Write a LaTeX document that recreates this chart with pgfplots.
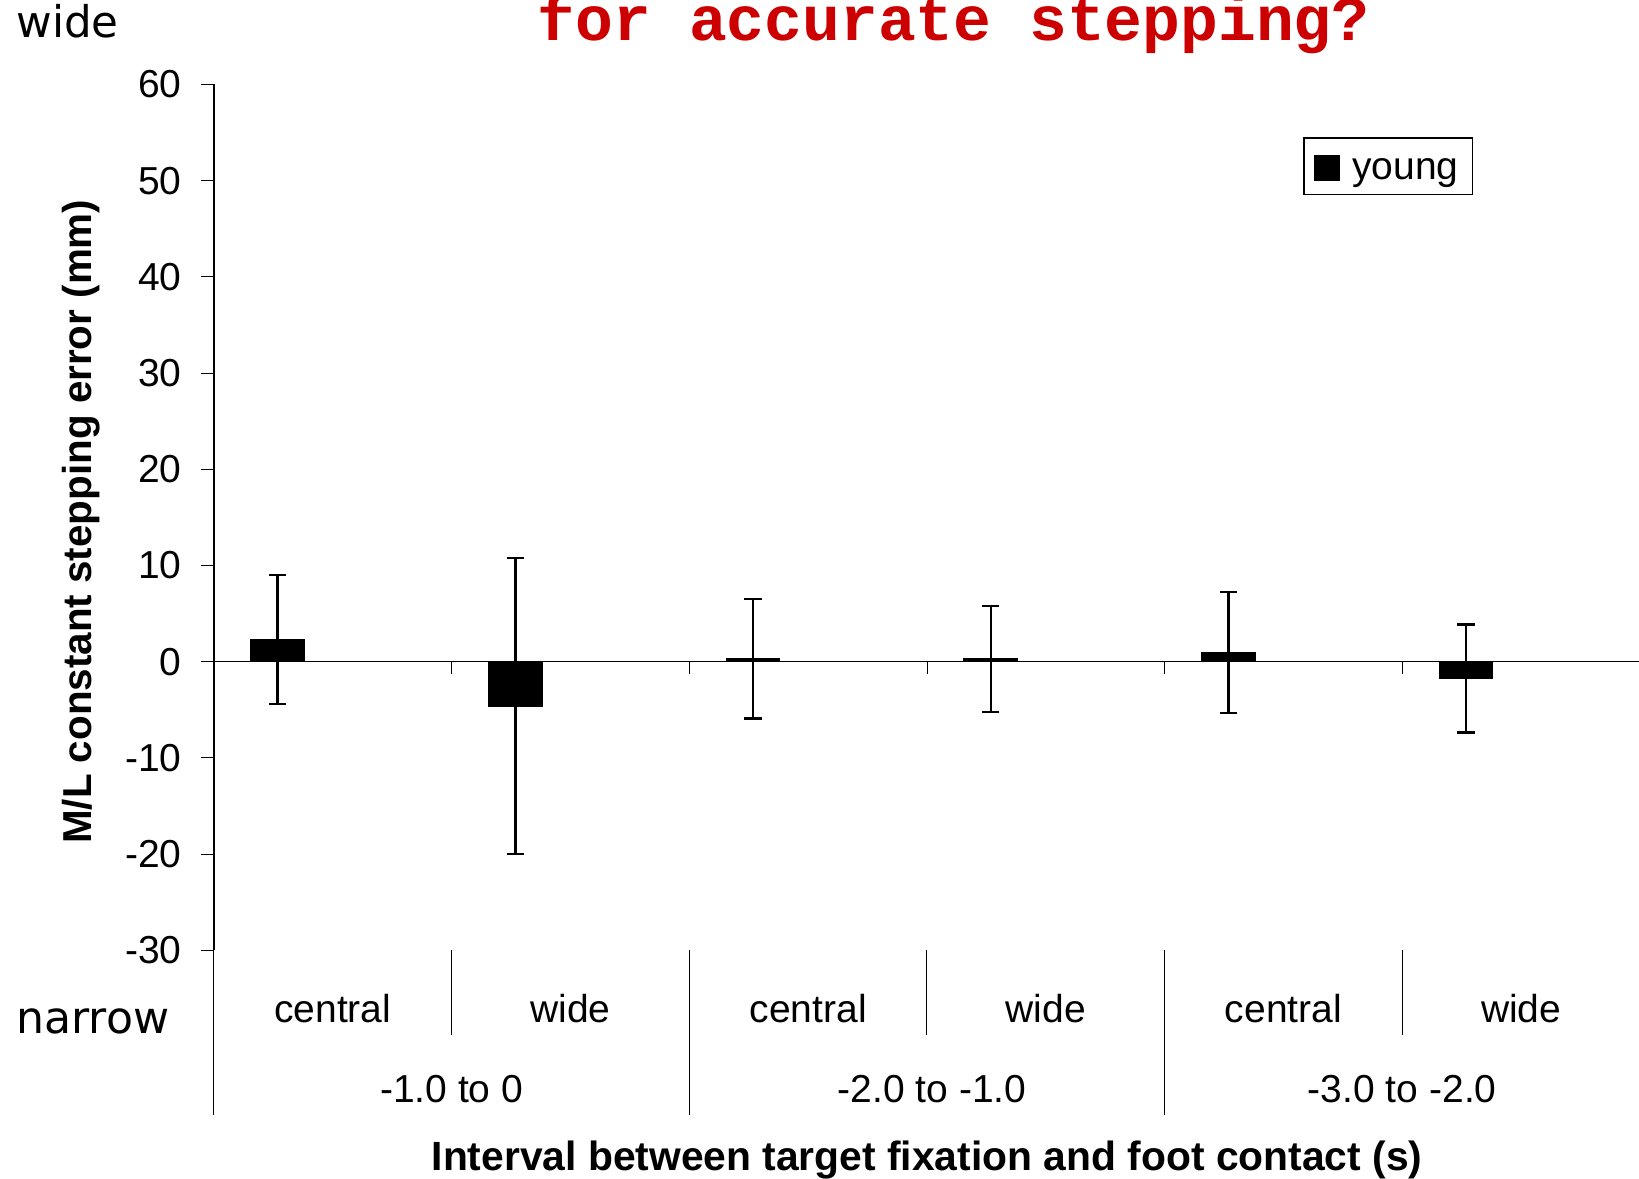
\documentclass[border=0pt]{standalone}
\usepackage{pgfplots}
\pgfplotsset{compat=1.18}
\usepackage{pgfplotstable}
\usepackage{fontspec}
\setmainfont{Liberation Sans}
\newfontfamily\monofont{Liberation Mono}
\newfontfamily\slidefont{DejaVu Sans}
\definecolor{titlered}{RGB}{204,0,0}
\pgfplotstableread{
x y err
0.268 2.3 6.7
1.268 -4.6 15.4
2.268 0.3 6.2
3.268 0.3 5.5
4.268 0.95 6.3
5.268 -1.75 5.6
}\young
\newcommand{\lbl}{\fontsize{19.5bp}{23bp}\selectfont}
\newcommand{\blbl}{\fontsize{20.2bp}{24bp}\selectfont\bfseries}
\newcommand{\xlbl}{\fontsize{20.4bp}{24bp}\selectfont\bfseries}
\begin{document}
\begin{tikzpicture}
\begin{axis}[
  at={(107bp,258.65bp)}, anchor=origin,
  scale only axis, width=713bp, height=432.9bp,
  xmin=0, xmax=6, ymin=-30, ymax=60,
  axis x line=middle, axis y line=left,
  x axis line style={-, line width=0.65bp},
  y axis line style={-, line width=0.6bp},
  hide obscured x ticks=false, hide obscured y ticks=false,
  xtick={1,2,3,4,5}, xticklabels={},
  xtick align=outside, ytick align=outside,
  ytick={-30,-20,...,60},
  major tick length=6.3bp,
  tick style={black, line width=0.5bp},
  /pgf/number format/assume math mode=true,
  yticklabel style={font=\lbl, inner sep=0pt, xshift=-9.7bp},
  clip=false,
  xlabel={Interval between target fixation and foot contact (s)},
  ylabel={M/L constant stepping error (mm)},
  every axis x label/.style={at={(axis description cs:0.5,-0.2549)}, anchor=base, font=\xlbl, inner sep=0pt},
  every axis y label/.style={at={(axis description cs:-0.0929,0.495)}, anchor=center, rotate=90, font=\blbl, inner sep=0pt},
  legend style={at={(0.764,0.939)}, anchor=north west, draw=black, line width=0.6bp, font=\lbl, inner xsep=5bp, inner ysep=4bp},
]
\addplot[ybar, bar width=0.224, bar shift=0pt, fill=black, draw=black, line width=0.8bp,
  legend image code/.code={\fill[black] (0bp,-4.7bp) rectangle (12bp,7.3bp); \path[draw=none,fill=none] (0bp,-4.7bp) rectangle (16.7bp,12.3bp);},
  error bars/.cd, y dir=both, y explicit,
  error bar style={line width=1.2bp, black},
  error mark options={rotate=90, mark size=4.3bp, line width=1.2bp, black}]
  table[x=x, y=y, y error=err] {\young};
\addlegendentry{young}
\end{axis}
\begin{scope}[x=0.5bp,y=0.5bp]
% multi-level category axis
\draw[line width=0.5bp] (214,229) -- (214,64);
\draw[line width=0.5bp] (451.7,229) -- (451.7,144);
\draw[line width=0.5bp] (689.3,229) -- (689.3,64);
\draw[line width=0.5bp] (927.0,229) -- (927.0,144);
\draw[line width=0.5bp] (1164.7,229) -- (1164.7,64);
\draw[line width=0.5bp] (1402.3,229) -- (1402.3,144);
\begin{scope}[every node/.style={anchor=base, inner sep=0pt, font=\lbl}]
\node at (332.8,157) {central};
\node at (570.5,157) {wide};
\node at (808.2,157) {central};
\node at (1045.8,157) {wide};
\node at (1283.5,157) {central};
\node at (1521.2,157) {wide};
\node at (451.7,77) {-1.0 to 0};
\node at (932.0,77) {-2.0 to -1.0};
\node at (1402.3,77) {-3.0 to -2.0};
\end{scope}
\node[anchor=base, inner sep=0pt, text=titlered, font={\fontsize{31.5bp}{36bp}\monofont\bfseries}] at (953.8,1139) {for accurate stepping?};
\node[anchor=base west, inner sep=0pt, font={\fontsize{21.8bp}{25bp}\slidefont}] at (16,1142) {wide};
\node[anchor=base west, inner sep=0pt, font={\fontsize{22.1bp}{25bp}\slidefont}] at (16,146) {narrow};
\end{scope}
\pgfresetboundingbox
\useasboundingbox (0bp,0bp) rectangle (819.5bp,589.5bp);
\end{tikzpicture}
\end{document}
